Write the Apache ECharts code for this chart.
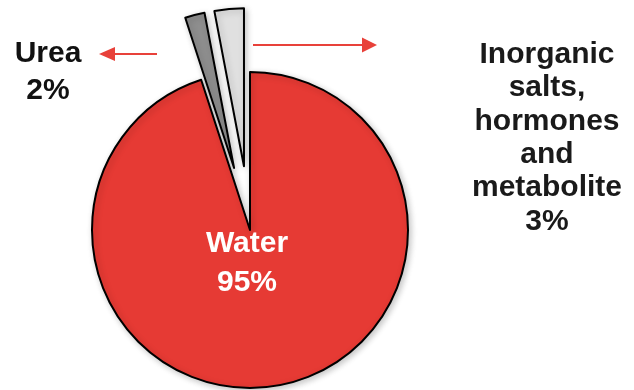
<!DOCTYPE html>
<html>
<head>
<meta charset="utf-8">
<script src="https://cdn.jsdelivr.net/npm/echarts@6/dist/echarts.min.js"></script>
<style>
  html, body { margin: 0; padding: 0; background: #fff; }
  #chart { width: 634px; height: 390px; }
</style>
</head>
<body>
<div id="chart"></div>
<script>
// 血浆成分
const names = ['Water', 'Urea', 'Inorganic\nsalts,\nhormones\nand\nmetabolite']
const values = [95, 2, 3]
const colors = ['#E63A34', '#8E8E8E', '#E0E0E0']
const exploded = [false, true, true]

const font = '"Liberation Sans", Arial, sans-serif'

const chart = echarts.init(document.getElementById('chart'))

const option = {
  animation: false,
  backgroundColor: '#fff',
  series: [
    {
      type: 'pie',
      center: [250, 230],
      radius: 158,
      startAngle: 90,
      clockwise: true,
      selectedMode: 'multiple',
      selectedOffset: 64,
      label: { show: false },
      labelLine: { show: false },
      emphasis: { disabled: true },
      itemStyle: {
        borderColor: '#000',
        borderWidth: 2,
        shadowBlur: 6,
        shadowColor: 'rgba(0,0,0,0.22)',
        shadowOffsetX: 2,
        shadowOffsetY: 2
      },
      data: values.map((v, i) => ({
        name: names[i],
        value: v,
        selected: exploded[i],
        itemStyle: { color: colors[i] },
        select: { itemStyle: { color: colors[i], borderColor: '#000', borderWidth: 2 } }
      }))
    }
  ],
  graphic: [
    // 标签
    {
      type: 'text', x: 247, y: 263, z: 100,
      style: {
        text: names[0] + '\n' + values[0] + '%',
        fill: '#fff', font: 'bold 30px ' + font,
        align: 'center', verticalAlign: 'middle', lineHeight: 39
      }
    },
    {
      type: 'text', x: 48, y: 72,
      style: {
        text: names[1] + '\n' + values[1] + '%',
        fill: '#111', font: 'bold 30px ' + font,
        align: 'center', verticalAlign: 'middle', lineHeight: 37
      }
    },
    {
      type: 'text', x: 547, y: 138,
      style: {
        text: names[2] + '\n' + values[2] + '%',
        fill: '#1a1a1a', font: 'bold 30px ' + font,
        align: 'center', verticalAlign: 'middle', lineHeight: 33.4
      }
    },
    // 箭头
    {
      type: 'line',
      shape: { x1: 157, y1: 54, x2: 112, y2: 54 },
      style: { stroke: '#E8413A', lineWidth: 2 }
    },
    {
      type: 'polygon',
      shape: { points: [[99, 54], [115, 47], [115, 61]] },
      style: { fill: '#E8413A' }
    },
    {
      type: 'line',
      shape: { x1: 253, y1: 45, x2: 364, y2: 45 },
      style: { stroke: '#E8413A', lineWidth: 2 }
    },
    {
      type: 'polygon',
      shape: { points: [[377, 45], [362, 37.5], [362, 52.5]] },
      style: { fill: '#E8413A' }
    }
  ]
}

chart.setOption(option)
</script>
</body>
</html>
